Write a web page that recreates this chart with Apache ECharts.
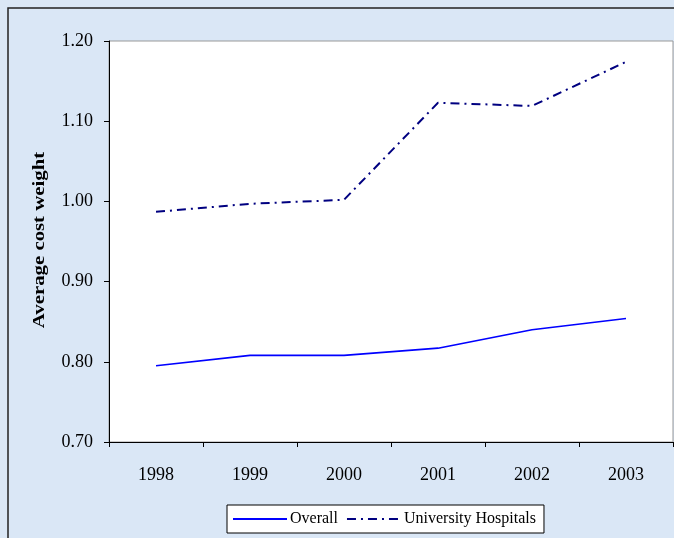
<!DOCTYPE html>
<html>
<head>
<meta charset="utf-8">
<script src="https://cdn.jsdelivr.net/npm/echarts@6/dist/echarts.min.js"></script>
<style>html,body{margin:0;padding:0;}#c{width:674px;height:538px;}</style>
</head>
<body>
<div id="c"></div>
<script>
var years = ['1998', '1999', '2000', '2001', '2002', '2003'];
var overall = [0.795, 0.808, 0.808, 0.817, 0.840, 0.854];
var university = [0.987, 0.997, 1.002, 1.123, 1.119, 1.174];
var yTicks = [0.70, 0.80, 0.90, 1.00, 1.10, 1.20];
var yTitle = 'Average cost weight';

var chart = echarts.init(document.getElementById('c'), null, {renderer: 'canvas'});
var font = '"Liberation Serif", "Times New Roman", serif';
chart.setOption({
  animation: false,
  backgroundColor: '#dae7f6',
  textStyle: {fontFamily: font},
  graphic: [{
    type: 'rect', z: 100, silent: true,
    shape: {x: 8, y: 8, width: 720, height: 600},
    style: {fill: 'none', stroke: '#222', lineWidth: 1.5}
  }, {
    type: 'text', silent: true,
    x: 40, y: 240, rotation: Math.PI / 2, scaleX: 1.3, scaleY: 1,
    style: {
      text: yTitle, fill: '#000',
      font: 'bold 16px "Liberation Serif", "Times New Roman", serif',
      align: 'center', verticalAlign: 'middle'
    }
  }],
  grid: {
    left: 109, top: 41, right: 1, bottom: 96,
    show: true, backgroundColor: '#ffffff', borderColor: '#999999', borderWidth: 1
  },
  legend: {
    left: 227, top: 505,
    padding: [6, 8, 6, 5],
    backgroundColor: '#ffffff',
    borderColor: '#000000', borderWidth: 1, borderRadius: 0,
    itemWidth: 54, itemHeight: 14, itemGap: 8,
    itemStyle: {opacity: 0},
    textStyle: {fontFamily: font, fontSize: 16, color: '#000', padding: [0, 0, 0, -2]},
    data: [{name: 'Overall'}, {name: 'University Hospitals'}]
  },
  xAxis: {
    type: 'category',
    data: years,
    boundaryGap: true,
    axisLine: {lineStyle: {color: '#000', width: 1}},
    axisTick: {show: true, inside: false, length: 5, alignWithLabel: false, lineStyle: {color: '#000'}},
    axisLabel: {fontFamily: font, fontSize: 18, color: '#000', margin: 24}
  },
  yAxis: {
    type: 'value',
    min: yTicks[0], max: yTicks[yTicks.length - 1], interval: 0.1,
    axisLine: {show: true, lineStyle: {color: '#000', width: 1}},
    axisTick: {show: true, length: 5, lineStyle: {color: '#000'}},
    splitLine: {show: false},
    axisLabel: {fontFamily: font, fontSize: 18, color: '#000', margin: 16,
      formatter: function (v) { return v.toFixed(2); }}
  },
  series: [
    {
      name: 'Overall', type: 'line', data: overall,
      symbol: 'none', smooth: false,
      lineStyle: {color: '#0000ff', width: 1.6},
      itemStyle: {color: '#0000ff'}
    },
    {
      name: 'University Hospitals', type: 'line', data: university,
      symbol: 'none', smooth: false,
      lineStyle: {color: '#000080', width: 2, type: [9, 5, 2, 5]},
      itemStyle: {color: '#000080'}
    }
  ]
});
</script>
</body>
</html>
